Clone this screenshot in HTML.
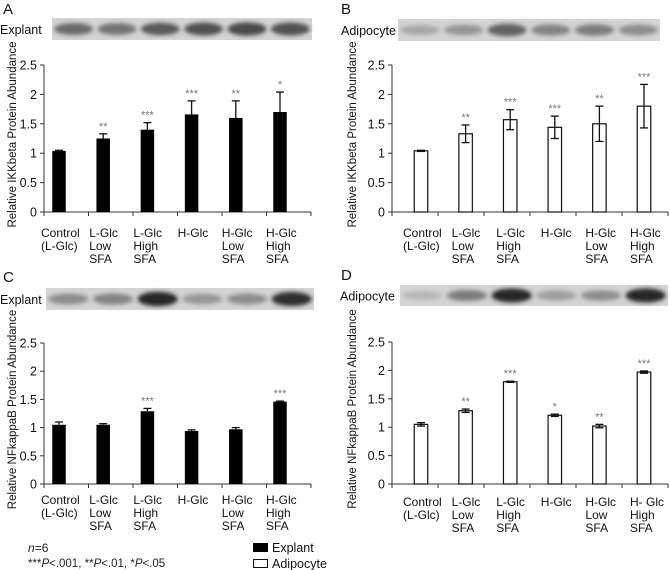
<!DOCTYPE html>
<html><head><meta charset="utf-8">
<style>
html,body{margin:0;padding:0;background:#fff;}
svg{display:block;font-family:"Liberation Sans",Arial,sans-serif;}
</style></head>
<body>
<svg id="fig" width="670" height="570" viewBox="0 0 670 570">
<defs>
<filter id="blur1" x="-20%" y="-50%" width="140%" height="200%"><feGaussianBlur stdDeviation="2.2"/></filter>
</defs>
</svg>
<script>
const categories = [["Control","(L-Glc)"],["L-Glc","Low","SFA"],["L-Glc","High","SFA"],["H-Glc"],["H-Glc","Low","SFA"],["H-Glc","High","SFA"]];
const categoriesD = [["Control","(L-Glc)"],["L-Glc","Low","SFA"],["L-Glc","High","SFA"],["H-Glc"],["H-Glc","Low","SFA"],["H- Glc","High","SFA"]];
const yTicks = [0,0.5,1,1.5,2,2.5];
const yTickLabels = ["0","0.5","1","1.5","2","2.5"];
const valuesA = [1.04,1.25,1.40,1.66,1.60,1.70];
const errorsA = [0.01,0.08,0.12,0.23,0.29,0.34];
const sigA = ["","**","***","***","**","*"];
const valuesB = [1.04,1.33,1.57,1.44,1.50,1.80];
const errorsB = [0.01,0.15,0.17,0.19,0.30,0.37];
const sigB = ["","**","***","***","**","***"];
const valuesC = [1.05,1.05,1.29,0.94,0.97,1.46];
const errorsC = [0.05,0.02,0.05,0.02,0.03,0.01];
const sigC = ["","","***","","","***"];
const valuesD = [1.05,1.29,1.80,1.21,1.02,1.97];
const errorsD = [0.03,0.03,0.01,0.02,0.03,0.02];
const sigD = ["","**","***","*","**","***"];
const bandIntensityA = [0.55,0.5,0.65,0.7,0.75,0.7];
const bandIntensityB = [0.2,0.3,0.6,0.4,0.45,0.35];
const bandIntensityC = [0.35,0.4,0.95,0.3,0.35,0.9];
const bandIntensityD = [0.1,0.45,0.95,0.25,0.35,0.95];

const NS="http://www.w3.org/2000/svg";
const svg=document.getElementById('fig');
function el(tag,attrs,parent){const e=document.createElementNS(NS,tag);for(const k in attrs)e.setAttribute(k,attrs[k]);(parent||svg).appendChild(e);return e;}

function panel(cfg){
  const g=el('g',{});
  
  
  const yScale=v=>cfg.y0+(cfg.y25-cfg.y0)*(v/2.5);
  const xC=i=>cfg.c0+i*cfg.step;
  const L=el('text',{x:cfg.lx,y:cfg.ly,'font-size':15,fill:'#111'},g);L.textContent=cfg.letter;
  
  
  const bl=el('g',{},g);
  
  
  el('rect',{x:cfg.bx,y:cfg.by,width:cfg.bw,height:cfg.bh,fill:'#d4d4d4'},bl);
  const lw=cfg.bw/6;
  cfg.bands.forEach((v,i)=>{
    const c=Math.round(200-170*v);
    el('ellipse',{cx:cfg.bx+lw*(i+0.5),cy:cfg.by+cfg.bh*0.5,rx:lw*0.45,ry:cfg.bh*0.2+v*3,fill:`rgb(${c},${c},${c})`,filter:'url(#blur1)'},bl);
  });
  const bt=el('text',{x:cfg.blx,y:cfg.by+cfg.bh/2+5,'font-size':12.5,fill:'#111'},g);bt.textContent=cfg.blotLabel;
  
  
  el('line',{x1:cfg.ax0,y1:cfg.y0,x2:cfg.ax0,y2:cfg.y25,stroke:'#333','stroke-width':1},g);
  el('line',{x1:cfg.ax0,y1:cfg.y0,x2:cfg.ax1,y2:cfg.y0,stroke:'#333','stroke-width':1},g);
  yTicks.forEach((t,i)=>{
    const y=yScale(t);
    el('line',{x1:cfg.ax0-4,y1:y,x2:cfg.ax0,y2:y,stroke:'#333'},g);
    const tx=el('text',{x:cfg.ax0-7,y:y+4.5,'font-size':12.5,'text-anchor':'end',fill:'#111'},g);
    tx.textContent=yTickLabels[i];
    
    
  });
  for(let i=0;i<=6;i++){const x=cfg.ax0+i*(cfg.ax1-cfg.ax0)/6;el('line',{x1:x,y1:cfg.y0,x2:x,y2:cfg.y0+4,stroke:'#333'},g);}
  const yt=el('text',{transform:`translate(${cfg.ytx},${(cfg.y0+cfg.y25)/2-4}) rotate(-90)`,'font-size':11.5,'text-anchor':'middle',fill:'#111'},g);
  yt.textContent=cfg.yTitle;
  
  
  cfg.values.forEach((v,i)=>{
    const x=xC(i),y=yScale(v),bw=13.5;
    const r=el('rect',{x:x-bw/2,y:y,width:bw,height:cfg.y0-y,fill:cfg.fill,stroke:'#111','stroke-width':cfg.fill==='#000'?0:1.2},g);
    
    
    const e=cfg.errors[i];
    const yt2=yScale(v+e),yb=cfg.twoSided?yScale(v-e):y;
    el('line',{x1:x,y1:yt2,x2:x,y2:yb,stroke:'#111','stroke-width':1.3},g);
    el('line',{x1:x-4,y1:yt2,x2:x+4,y2:yt2,stroke:'#111','stroke-width':1.3},g);
    if(cfg.twoSided) el('line',{x1:x-4,y1:yb,x2:x+4,y2:yb,stroke:'#111','stroke-width':1.3},g);
    if(cfg.sig[i]){
      const s=el('text',{x:x,y:yt2-4,'font-size':11,'text-anchor':'middle',fill:'#777'},g);
      s.textContent=cfg.sig[i];
      
      
    }
    cfg.cats[i].forEach((ln,j)=>{
      const t=el('text',{x:x-14,y:cfg.labY+j*13,'font-size':12,fill:'#111'},g);
      if(i===0) t.setAttribute('x',x-18);
      t.textContent=ln;
      
      
    });
  });
}
panel({letter:'A',lx:3,ly:14,bx:52,by:18,bw:260,bh:22,blx:0,blotLabel:'Explant',bands:bandIntensityA,
  ax0:44,ax1:311,y0:212,y25:65,c0:59,step:44.2,ytx:16,yTitle:'Relative IKKbeta Protein Abundance',
  values:valuesA,errors:errorsA,sig:sigA,fill:'#000',twoSided:false,cats:categories,labY:237});
panel({letter:'B',lx:341,ly:14,bx:398,by:19,bw:262,bh:22,blx:341,blotLabel:'Adipocyte',bands:bandIntensityB,
  ax0:392,ax1:668,y0:212,y25:65,c0:421,step:44.6,ytx:356,yTitle:'Relative IKKbeta Protein Abundance',
  values:valuesB,errors:errorsB,sig:sigB,fill:'#fff',twoSided:true,cats:categories,labY:237});
panel({letter:'C',lx:3,ly:282,bx:46,by:288,bw:268,bh:22,blx:0,blotLabel:'Explant',bands:bandIntensityC,
  ax0:44,ax1:311,y0:484,y25:343,c0:59,step:44.2,ytx:16,yTitle:'Relative NFkappaB Protein Abundance',
  values:valuesC,errors:errorsC,sig:sigC,fill:'#000',twoSided:false,cats:categories,labY:504});
panel({letter:'D',lx:341,ly:280,bx:400,by:285,bw:268,bh:21,blx:340,blotLabel:'Adipocyte',bands:bandIntensityD,
  ax0:392,ax1:668,y0:484,y25:342,c0:421,step:44.6,ytx:356,yTitle:'Relative NFkappaB Protein Abundance',
  values:valuesD,errors:errorsD,sig:sigD,fill:'#fff',twoSided:true,cats:categoriesD,labY:506});
</script>
<div style="position:absolute;left:0;top:0;width:670px;height:570px;pointer-events:none">
<svg width="670" height="570" style="position:absolute;left:0;top:0">
<g font-family="Liberation Sans, sans-serif" font-size="12" fill="#222">
<text x="28" y="552"><tspan font-style="italic">n</tspan>=6</text>
<text x="28" y="567" font-size="11.5">***<tspan font-style="italic">P</tspan>&lt;.001, **<tspan font-style="italic">P</tspan>&lt;.01, *<tspan font-style="italic">P</tspan>&lt;.05</text>
</g>
<g font-family="Liberation Sans, sans-serif" font-size="12.5" fill="#111">
<rect x="253" y="543" width="15" height="9" fill="#000"/>
<text x="272" y="552">Explant</text>
<rect x="253.5" y="559.5" width="14" height="8" fill="#fff" stroke="#111"/>
<text x="272" y="568">Adipocyte</text>
</g>
</svg>
</div>
</body></html>
